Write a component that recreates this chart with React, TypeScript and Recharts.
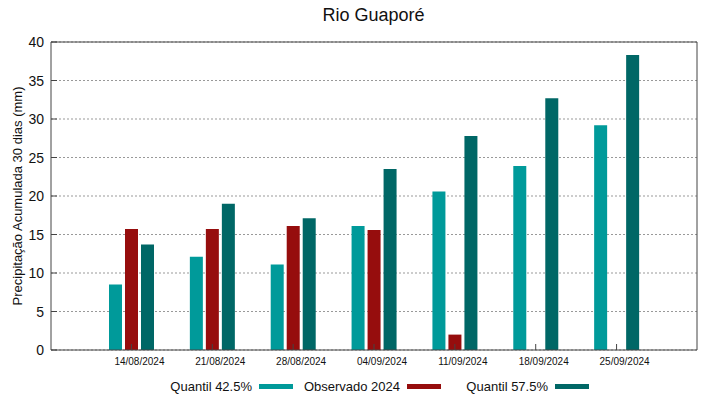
import React from 'react';
import { BarChart, Bar, XAxis, YAxis, CartesianGrid } from 'recharts';

const datas = ['14/08/2024', '21/08/2024', '28/08/2024', '04/09/2024', '11/09/2024', '18/09/2024', '25/09/2024'];
const quantil425 = [8.5, 12.1, 11.1, 16.1, 20.6, 23.9, 29.2];
const observado2024 = [15.7, 15.7, 16.1, 15.6, 2.0, null, null];
const quantil575 = [13.7, 19.0, 17.1, 23.5, 27.8, 32.7, 38.3];
const yTicks = [0, 5, 10, 15, 20, 25, 30, 35, 40];

const CORES = {
  q425: '#009a9a',
  obs: '#960d0d',
  q575: '#006766',
};

const SERIES = [
  { key: 'q425', name: 'Quantil 42.5%', color: CORES.q425 },
  { key: 'obs', name: 'Observado 2024', color: CORES.obs },
  { key: 'q575', name: 'Quantil 57.5%', color: CORES.q575 },
];

const data = datas.map((d, i) => ({
  data: d,
  q425: quantil425[i],
  obs: observado2024[i],
  q575: quantil575[i],
}));

const FONT = '"Liberation Sans", Arial, sans-serif';
const AXIS = '#444';

function YTick(props: any) {
  const { x, y, payload } = props;
  return (
    <g>
      <text x={x} y={y} dy={5} textAnchor="end" fontSize={14} fill="#111" fontFamily={FONT}>
        {payload.value}
      </text>
      <line x1={x + 7} x2={x + 13} y1={y} y2={y} stroke={AXIS} />
    </g>
  );
}

function XTick(props: any) {
  const { x, y, payload } = props;
  return (
    <g>
      <text x={x + 8} y={y} dy={12} textAnchor="middle" fontSize={10} fill="#111" fontFamily={FONT}>
        {payload.value}
      </text>
      <line x1={x} x2={x} y1={y - 3} y2={y - 9} stroke={AXIS} />
    </g>
  );
}

function Legenda() {
  return (
    <div
      style={{
        position: 'absolute',
        top: 379,
        left: 145,
        display: 'flex',
        fontFamily: FONT,
        fontSize: 13,
        color: '#111',
      }}
    >
      {SERIES.map((s) => (
        <div key={s.key} style={{ width: 148, display: 'flex', justifyContent: 'flex-end', alignItems: 'center' }}>
          <span>{s.name}</span>
          <div style={{ width: 34, height: 5, background: s.color, marginLeft: 7 }} />
        </div>
      ))}
    </div>
  );
}

export default function App() {
  return (
    <div style={{ position: 'absolute', left: 0, top: 0, width: 719, height: 399, background: '#fff' }}>
      <div
        style={{
          position: 'absolute',
          top: 5,
          left: 0,
          width: 747,
          textAlign: 'center',
          fontFamily: FONT,
          fontSize: 18,
          color: '#111',
        }}
      >
        Rio Guaporé
      </div>
      <BarChart
        width={719}
        height={399}
        data={data}
        margin={{ top: 42, right: 22, bottom: 0, left: 11 }}
        barSize={13}
        barGap={3}
      >
        <CartesianGrid horizontal vertical={false} stroke="#999" strokeDasharray="2 2" />
        <XAxis
          dataKey="data"
          interval={0}
          padding={{ left: 40, right: 40 }}
          stroke={AXIS}
          tickLine={false}
          tickSize={0}
          tickMargin={3}
          tick={<XTick />}
          height={49}
        />
        <XAxis
          xAxisId="top"
          dataKey="data"
          orientation="top"
          mirror
          interval={0}
          padding={{ left: 40, right: 40 }}
          stroke={AXIS}
          tick={false}
          tickSize={6}
          height={1}
        />
        <YAxis
          domain={[0, 40]}
          ticks={yTicks}
          interval={0}
          width={40}
          stroke={AXIS}
          tickLine={false}
          tickSize={0}
          tickMargin={7}
          tick={<YTick />}
          label={{
            value: 'Precipitação Acumulada 30 dias (mm)',
            angle: -90,
            position: 'insideLeft',
            offset: 6,
            style: { textAnchor: 'middle', fontSize: 13, fontFamily: FONT, fill: '#111' },
          }}
        />
        <YAxis
          yAxisId="right"
          orientation="right"
          mirror
          domain={[0, 40]}
          ticks={yTicks}
          interval={0}
          width={1}
          stroke={AXIS}
          tick={false}
          tickSize={6}
        />
        {SERIES.map((s) => (
          <Bar key={s.key} dataKey={s.key} name={s.name} fill={s.color} isAnimationActive={false} />
        ))}
      </BarChart>
      <Legenda />
    </div>
  );
}
